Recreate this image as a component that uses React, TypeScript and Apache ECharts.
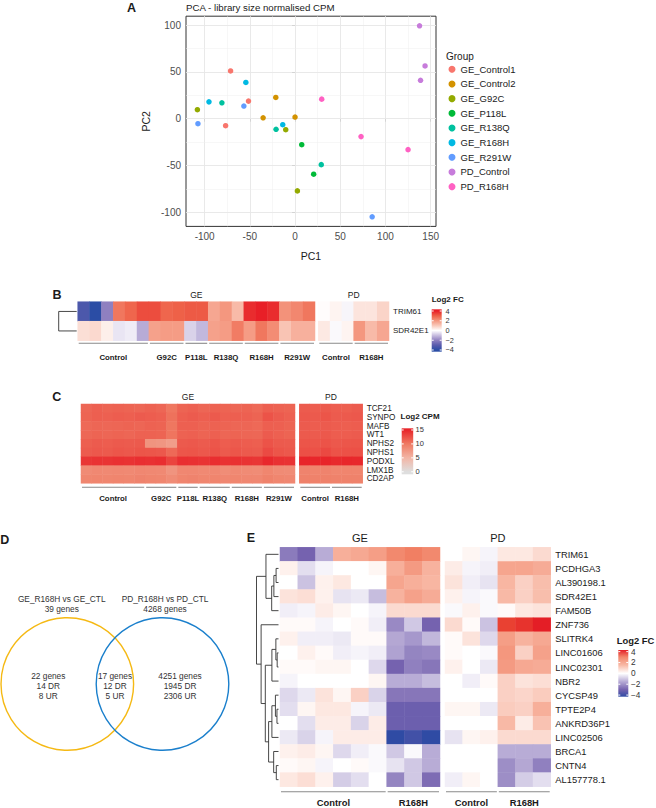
import React, { useEffect, useRef } from 'react';
import * as echarts from 'echarts';

const FONT = '"Liberation Sans", Arial, Helvetica, sans-serif';
const NARROW = '"Liberation Sans Narrow", "Arial Narrow", "Liberation Sans", Arial, sans-serif';
const TXT = '#1a1a1a';

// ---------- Panel A: PCA ----------
const GROUP_NAMES = ['GE_Control1', 'GE_Control2', 'GE_G92C', 'GE_P118L', 'GE_R138Q', 'GE_R168H', 'GE_R291W', 'PD_Control', 'PD_R168H'];
const GROUP_COLORS = ['#F8766D', '#D39200', '#93AA00', '#00BA38', '#00C19F', '#00B9E3', '#619CFF', '#C77CDB', '#FF61C3'];
const PCA_GE_CONTROL1 = [[-71.3, 51], [-51.5, 18.8], [-76.8, -7.4]];
const PCA_GE_CONTROL2 = [[-21.3, 22.7], [-35.3, 1], [0, 1.8]];
const PCA_GE_G92C = [[-108, 9.6], [-10.3, -11.7], [2.6, -77]];
const PCA_GE_P118L = [[7.4, -27.7], [20.6, -59.2]];
const PCA_GE_R138Q = [[-80.9, 17], [-21, -11.3], [29, -49]];
const PCA_GE_R168H = [[-95.2, 18], [-54.4, 38.7], [-13.6, -6.4]];
const PCA_GE_R291W = [[-107.4, -5.3], [-56.6, 13.5], [85.3, -104.7]];
const PCA_PD_CONTROL = [[137.7, 99.2], [143.8, 56.3], [138.8, 41]];
const PCA_PD_R168H = [[29.5, 20.9], [73, -19.1], [125, -33]];
const PCA_POINTS = [PCA_GE_CONTROL1, PCA_GE_CONTROL2, PCA_GE_G92C, PCA_GE_P118L, PCA_GE_R138Q, PCA_GE_R168H, PCA_GE_R291W, PCA_PD_CONTROL, PCA_PD_R168H];
const X_TICKS = [-100, -50, 0, 50, 100, 150];
const X_MINOR = [-75, -25, 25, 75, 125];
const Y_TICKS = [-100, -50, 0, 50, 100];
const Y_MINOR = [-75, -25, 25, 75];

// ---------- Groups ----------
const GE_GROUPS = ['Control', 'G92C', 'P118L', 'R138Q', 'R168H', 'R291W'];
const GE_GROUP_SIZES = [6, 3, 2, 3, 3, 3];
const PD_GROUPS = ['Control', 'R168H'];
const PD_GROUP_SIZES = [3, 3];
const E_GE_GROUPS = ['Control', 'R168H'];
const E_GE_GROUP_SIZES = [6, 3];

// ---------- Panel B: Log2 FC (20 GE + 6 PD samples) ----------
const B_GENES = ['TRIM61', 'SDR42E1'];
const B_TRIM61 = [-3.3, -4.0, -2.0, 2.6, 2.9, 3.3, 3.3, 2.9, 3.0, 3.1, 3.1, 1.7, 2.0, 1.3, 3.8, 4.2, 3.8, 2.1, 2.3, 2.6, 0.05, 0.2, -0.15, 0.5, 0.5, 0.8];
const B_SDR42E1 = [0.6, 0.7, 0.3, -0.4, -0.3, -1.3, 1.8, 1.9, 1.9, -0.7, -1.1, 1.8, 1.9, 2.5, 1.9, 2.6, 2.2, 1.1, 1.5, 1.5, 0.4, -0.1, 0.2, 2.0, 1.3, 1.7];
const B_VALUES = [B_TRIM61, B_SDR42E1];
const B_COLORS = ['#2B4DA5', '#5A5CAD', '#8F80C0', '#C8BEE0', '#FFFFFF', '#F9C9BA', '#F4977F', '#EE6148', '#E81F27'];

// ---------- Panel C: Log2 CPM ----------
const C_GENES = ['TCF21', 'SYNPO', 'MAFB', 'WT1', 'NPHS2', 'NPHS1', 'PODXL', 'LMX1B', 'CD2AP'];
const C_TCF21 = [11.2, 11.5, 11.3, 11.4, 11.3, 11.2, 11.4, 11.2, 10.2, 11.3, 11.5, 11.2, 11.4, 11.3, 11.2, 11.3, 11.0, 11.6, 11.4, 11.3, 11.8, 11.7, 11.9, 11.7, 11.6, 11.8];
const C_SYNPO = [11.3, 11.6, 11.5, 11.7, 11.6, 11.8, 11.7, 11.5, 10.5, 11.6, 11.8, 11.6, 11.9, 11.5, 11.6, 11.5, 11.3, 12.3, 11.8, 11.5, 12.0, 11.9, 12.2, 11.8, 11.9, 12.0];
const C_MAFB = [11.0, 11.2, 11.1, 11.2, 11.3, 11.2, 11.4, 11.3, 10.2, 11.5, 11.5, 11.3, 11.4, 11.3, 11.2, 11.2, 11.0, 11.6, 11.5, 11.3, 11.8, 11.7, 11.8, 11.7, 11.6, 11.7];
const C_WT1 = [11.1, 11.3, 11.2, 11.3, 11.2, 11.4, 11.4, 11.3, 10.3, 11.4, 11.5, 11.3, 11.5, 11.2, 11.3, 11.2, 11.1, 11.8, 11.5, 11.3, 11.9, 11.8, 12.0, 11.7, 11.7, 11.8];
const C_NPHS2 = [11.6, 11.8, 11.7, 11.9, 11.8, 11.9, 7.8, 7.6, 7.0, 11.9, 12.0, 11.8, 12.1, 11.7, 11.9, 11.7, 11.6, 12.3, 11.9, 11.8, 12.2, 12.1, 12.3, 12.0, 12.1, 12.2];
const C_NPHS1 = [11.8, 12.0, 11.9, 12.1, 12.0, 12.2, 12.1, 12.0, 11.0, 12.1, 12.2, 12.0, 12.3, 11.9, 12.1, 11.9, 11.8, 12.8, 12.2, 12.0, 12.5, 12.4, 12.9, 12.3, 12.4, 12.5];
const C_PODXL = [14.0, 14.2, 14.1, 14.3, 14.2, 14.4, 14.3, 14.5, 13.2, 14.4, 14.3, 14.1, 14.5, 14.2, 14.3, 14.1, 14.0, 14.8, 14.3, 14.2, 15.0, 14.9, 15.0, 14.7, 14.9, 14.8];
const C_LMX1B = [8.6, 8.8, 8.7, 8.8, 8.7, 8.9, 8.8, 8.7, 7.8, 8.9, 8.9, 8.7, 8.8, 8.4, 8.7, 8.6, 8.5, 9.0, 8.6, 8.5, 9.2, 9.1, 9.2, 9.0, 9.1, 9.1];
const C_CD2AP = [9.0, 9.1, 9.0, 9.1, 9.0, 9.2, 9.1, 9.0, 8.5, 9.1, 9.2, 9.0, 9.1, 8.9, 9.0, 8.9, 8.9, 9.3, 9.0, 8.9, 9.4, 9.3, 9.4, 9.3, 9.3, 9.3];
const C_VALUES = [C_TCF21, C_SYNPO, C_MAFB, C_WT1, C_NPHS2, C_NPHS1, C_PODXL, C_LMX1B, C_CD2AP];
const C_COLORS = ['#DEDEDE', '#F2B5A5', '#EF7A62', '#E8252A'];

// ---------- Panel D: Venn ----------
const VENN_SETS = ['GE_R168H vs GE_CTL', 'PD_R168H vs PD_CTL'];
const VENN_TOTALS = [39, 4268];
const VENN_GENES = [22, 17, 4251];
const VENN_DR = [14, 12, 1945];
const VENN_UR = [8, 5, 2306];

// ---------- Panel E: Log2 FC (9 GE + 6 PD samples) ----------
const E_GENES = ['TRIM61', 'PCDHGA3', 'AL390198.1', 'SDR42E1', 'FAM50B', 'ZNF736', 'SLITRK4', 'LINC01606', 'LINC02301', 'NBR2', 'CYCSP49', 'TPTE2P4', 'ANKRD36P1', 'LINC02506', 'BRCA1', 'CNTN4', 'AL157778.1'];
const E_TRIM61 = [-2.5, -3.0, -1.5, 1.8, 2.0, 2.3, 2.9, 3.2, 2.9, 0, 0.2, -0.2, 0.5, 0.5, 0.8];
const E_PCDHGA3 = [0.3, -0.6, -0.2, 0, 0, 0.2, 1.8, 2.4, 1.7, 0.4, -0.2, -0.3, 2.1, 2.1, 1.9];
const E_AL390198 = [0, -1.1, 0.3, 0.5, 0, 0, 2.1, 1.8, 1.6, 0.6, -0.3, -0.5, 1.6, 1.0, 1.4];
const E_SDR42E1 = [0.6, 0.7, 0.3, -0.5, -0.4, -1.2, 1.7, 2.2, 1.9, 0.3, -0.2, -0.1, 1.5, 1.0, 1.4];
const E_FAM50B = [-0.3, -0.2, 0.4, 0.2, 0, -0.2, 0.8, 0.8, 0.8, -0.1, 0.3, -0.1, 0.1, 0.5, 0.6];
const E_ZNF736 = [0.1, 0.1, -0.2, 0, 0.1, -0.3, -2.2, -1.0, -3.0, 0.8, 0.1, -1.1, 5.0, 5.4, 6.0];
const E_SLITRK4 = [0.3, -0.3, -0.3, -0.4, 0.1, 0.1, -1.6, -1.9, -1.3, 0.1, 0.6, -0.7, 2.3, 1.7, 2.0];
const E_LINC01606 = [0, 0.3, 0.1, -0.3, -0.2, -0.3, -1.7, -2.3, -2.2, 0.1, 0, -0.1, 2.5, 1.0, 2.2];
const E_LINC02301 = [0.1, 0.1, 0.2, 0.2, 0, -0.7, -3.0, -2.4, -2.6, 0.3, 0, -0.4, 2.4, 2.0, 1.9];
const E_NBR2 = [-0.2, 0, 0, 0, 0, 0.2, -1.5, -1.5, -1.2, 0, -0.3, 0.1, 1.0, 0.6, 0.7];
const E_CYCSP49 = [-0.7, -0.4, 0.6, 0.2, 1.0, -0.8, -2.6, -2.6, -2.6, 0, 0, 0, 1.0, 0.9, 1.1];
const E_TPTE2P4 = [-0.6, 0.2, 0.5, 0.5, -0.2, -0.4, -3.2, -3.2, -3.2, 0.2, 0.2, -0.4, 1.1, 1.0, 1.8];
const E_ANKRD36P1 = [0, -0.6, 0.4, 0.4, -0.8, 0.4, -3.2, -3.2, -3.2, 0, 0, 0, 1.5, 0.4, 1.3];
const E_LINC02506 = [-0.4, -0.8, -0.2, 0.4, 0.4, 0.4, -4.5, -4.1, -4.5, -0.5, 0.2, 0.3, 0.8, 0.8, 0.8];
const E_BRCA1 = [0.3, 0.4, 0.2, -0.7, -0.3, -0.1, -1.0, -0.1, -1.5, 0, 0, 0, -1.5, -1.5, -1.5];
const E_CNTN4 = [0.1, 0.2, -0.2, 0, 0.1, -0.1, -0.5, -1.0, -1.5, 0, 0, 0, -2.1, -1.6, -2.4];
const E_AL157778 = [0.5, 0.7, 0.3, -0.9, -0.6, 0, -2.3, -1.0, -2.8, -0.3, 0.2, 0, -2.1, -0.9, -0.6];
const E_VALUES = [E_TRIM61, E_PCDHGA3, E_AL390198, E_SDR42E1, E_FAM50B, E_ZNF736, E_SLITRK4, E_LINC01606, E_LINC02301, E_NBR2, E_CYCSP49, E_TPTE2P4, E_ANKRD36P1, E_LINC02506, E_BRCA1, E_CNTN4, E_AL157778];
const E_COLORS = ['#2F4BA4', '#7562AF', '#B8ACD6', '#FFFFFF', '#F8B9A6', '#F2866A', '#EC5238', '#E41E26'];
const E_MIN = -4.5;
const E_MAX = 6;

// dendrogram topologies (leaf = row index, h = relative merge height)
type TreeNode = number | { h: number; l: TreeNode; r: TreeNode };
const B_TREE: TreeNode = { h: 1, l: 0, r: 1 };
const E_TREE: TreeNode = {
  h: 1,
  l: { h: 0.57, l: 0, r: { h: 0.31, l: { h: 0.21, l: { h: 0.11, l: 1, r: 2 }, r: 3 }, r: 4 } },
  r: {
    h: 0.79, l: 5,
    r: {
      h: 0.6,
      l: { h: 0.3, l: { h: 0.12, l: 6, r: { h: 0.06, l: 7, r: 8 } }, r: 9 },
      r: {
        h: 0.45,
        l: { h: 0.3, l: { h: 0.14, l: 10, r: { h: 0.07, l: 11, r: 12 } }, r: 13 },
        r: { h: 0.22, l: 14, r: { h: 0.1, l: 15, r: 16 } },
      },
    },
  },
};

// ---------- layout ----------
const GA = { left: 186, top: 16.2, width: 250, height: 210.2 };
const GB1 = { left: 77.7, top: 301.7, width: 237.3, height: 39 };
const GB2 = { left: 318.3, top: 301.7, width: 70.7, height: 39 };
const GC1 = { left: 81, top: 404, width: 214, height: 79.3 };
const GC2 = { left: 299.3, top: 404, width: 63.4, height: 79.3 };
const GE1 = { left: 280, top: 547.3, width: 160, height: 239.4 };
const GE2 = { left: 445, top: 547.3, width: 105.7, height: 239.4 };

const txt = (x: number, y: number, text: string, o: any = {}) => ({
  type: 'text', x, y, silent: true,
  style: { text, fill: TXT, fontSize: 10, fontFamily: FONT, align: 'center', verticalAlign: 'middle', ...o },
});
const seg = (x1: number, y1: number, x2: number, y2: number, stroke = '#333', lineWidth = 0.8) => ({
  type: 'line', silent: true, shape: { x1, y1, x2, y2 }, style: { stroke, lineWidth },
});

function heatData(rows: number[][], from: number, to: number) {
  const out: number[][] = [];
  rows.forEach((row, r) => {
    for (let c = from; c < to; c++) out.push([c - from, r, row[c]]);
  });
  return out;
}

function groupMarks(g: any, n: number, names: string[], sizes: number[], lineDy: number, labelDy: number, fs: number) {
  const cw = g.width / n;
  const y0 = g.top + g.height;
  const els: any[] = [];
  let s = 0;
  names.forEach((name, i) => {
    const x1 = g.left + s * cw + 1;
    const x2 = g.left + (s + sizes[i]) * cw - 1;
    els.push(seg(x1, y0 + lineDy, x2, y0 + lineDy, '#8a8a8a', 1.1));
    els.push(txt((x1 + x2) / 2, y0 + labelDy, name, { fontWeight: 'bold', fontSize: fs }));
    s += sizes[i];
  });
  return els;
}

function dendro(tree: TreeNode, leafX: number, width: number, g: any, nRows: number) {
  const els: any[] = [];
  const rh = g.height / nRows;
  const walk = (n: TreeNode): { x: number; y: number } => {
    if (typeof n === 'number') return { x: leafX, y: g.top + rh * (n + 0.5) };
    const a = walk(n.l);
    const b = walk(n.r);
    const x = leafX - n.h * width;
    els.push(seg(a.x, a.y, x, a.y, '#333', 0.9));
    els.push(seg(b.x, b.y, x, b.y, '#333', 0.9));
    els.push(seg(x, a.y, x, b.y, '#333', 0.9));
    return { x, y: (a.y + b.y) / 2 };
  };
  walk(tree);
  return els;
}

function colorBar(x: number, yTop: number, w: number, h: number, colors: string[], vmin: number, vmax: number, barMax: number, barMin: number, labels: number[], fs: number, labelX: number) {
  const stops: any[] = [];
  colors.forEach((c, i) => {
    const v = vmin + (i * (vmax - vmin)) / (colors.length - 1);
    const off = (barMax - v) / (barMax - barMin);
    stops.push({ offset: Math.max(0, Math.min(1, off)), color: c });
  });
  stops.sort((a, b) => a.offset - b.offset);
  const els: any[] = [{
    type: 'rect', silent: true, shape: { x, y: yTop, width: w, height: h },
    style: { fill: new echarts.graphic.LinearGradient(0, 0, 0, 1, stops) },
  }];
  labels.forEach((v) => {
    const y = yTop + ((barMax - v) / (barMax - barMin)) * h;
    els.push(seg(x, y, x + 2, y, '#fff', 1));
    els.push(seg(x + w - 2, y, x + w, y, '#fff', 1));
    els.push(txt(labelX, y, v < 0 ? '\u2212' + Math.abs(v) : String(v), { align: 'left', fontSize: fs, fill: '#333' }));
  });
  return els;
}

function buildOption() {
  const series: any[] = [];
  PCA_POINTS.forEach((pts, i) => {
    const s: any = {
      type: 'scatter', name: GROUP_NAMES[i], xAxisIndex: 0, yAxisIndex: 0,
      data: pts, symbolSize: 5.5, itemStyle: { color: GROUP_COLORS[i], opacity: 1 },
      emphasis: { disabled: true }, z: 3,
    };
    if (i === 0) {
      const major = { color: '#E6E6E6', width: 0.9, type: 'solid' };
      const minor = { color: '#EEEEEE', width: 0.5, type: 'solid' };
      s.markLine = {
        silent: true, symbol: ['none', 'none'], z: 1, animation: false, label: { show: false },
        data: [
          ...X_TICKS.map((v) => ({ xAxis: v, lineStyle: major })),
          ...X_MINOR.map((v) => ({ xAxis: v, lineStyle: minor })),
          ...Y_TICKS.map((v) => ({ yAxis: v, lineStyle: major })),
          ...Y_MINOR.map((v) => ({ yAxis: v, lineStyle: minor })),
        ],
      };
    }
    series.push(s);
  });
  const heat = (xi: number, data: number[][]) => ({
    type: 'heatmap', xAxisIndex: xi, yAxisIndex: xi, data,
    itemStyle: { borderWidth: 0 }, emphasis: { disabled: true },
  });
  series.push(heat(1, heatData(B_VALUES, 0, 20)));
  series.push(heat(2, heatData(B_VALUES, 20, 26)));
  series.push(heat(3, heatData(C_VALUES, 0, 20)));
  series.push(heat(4, heatData(C_VALUES, 20, 26)));
  series.push(heat(5, heatData(E_VALUES, 0, 9)));
  series.push(heat(6, heatData(E_VALUES, 9, 15)));

  const idx = (n: number) => Array.from({ length: n }, (_, i) => String(i));
  const grids = [GA, GB1, GB2, GC1, GC2, GE1, GE2].map((g, i) => ({
    ...g, containLabel: false, outerBoundsMode: 'none',
    show: i === 0, borderColor: '#333', borderWidth: 1, backgroundColor: '#fff',
  }));
  const hx = (gi: number, n: number) => ({ type: 'category', gridIndex: gi, data: idx(n), show: false });
  const hy = (gi: number, genes: string[], showLabel: boolean, fs: number, family: string, margin: number) => ({
    type: 'category', gridIndex: gi, data: genes, inverse: true, position: 'right',
    axisLine: { show: false }, axisTick: { show: false }, splitLine: { show: false },
    axisLabel: { show: showLabel, interval: 0, hideOverlap: false, fontSize: fs, fontFamily: family, color: TXT, margin },
  });

  const xAxis: any[] = [
    {
      type: 'value', gridIndex: 0, min: -120.6, max: 155.9,
      name: 'PC1', nameLocation: 'middle', nameGap: 24,
      nameTextStyle: { fontSize: 10.5, color: TXT, fontFamily: FONT },
      axisLine: { show: false },
      axisTick: { show: true, length: 3, lineStyle: { color: '#333' }, customValues: X_TICKS },
      axisLabel: { customValues: X_TICKS, fontSize: 10, color: '#4d4d4d', fontFamily: FONT, margin: 5 },
      splitLine: { show: false },
    },
    hx(1, 20), hx(2, 6), hx(3, 20), hx(4, 6), hx(5, 9), hx(6, 6),
  ];
  const yAxis: any[] = [
    {
      type: 'value', gridIndex: 0, min: -114.9, max: 109.4,
      name: 'PC2', nameLocation: 'middle', nameGap: 35,
      nameTextStyle: { fontSize: 10.5, color: TXT, fontFamily: FONT },
      axisLine: { show: false },
      axisTick: { show: true, length: 3, lineStyle: { color: '#333' }, customValues: Y_TICKS },
      axisLabel: { customValues: Y_TICKS, fontSize: 10, color: '#4d4d4d', fontFamily: FONT, margin: 5 },
      splitLine: { show: false },
    },
    hy(1, B_GENES, false, 8, FONT, 4), hy(2, B_GENES, true, 8, FONT, 4),
    hy(3, C_GENES, false, 8.2, NARROW, 4), hy(4, C_GENES, true, 8.2, NARROW, 4),
    hy(5, E_GENES, false, 9.4, FONT, 4.5), hy(6, E_GENES, true, 9.4, FONT, 4.5),
  ];

  const graphic: any[] = [];
  // panel letters
  graphic.push(txt(131.5, 7.5, 'A', { fontWeight: 'bold', fontSize: 12.5 }));
  graphic.push(txt(57, 295, 'B', { fontWeight: 'bold', fontSize: 12.5 }));
  graphic.push(txt(56.7, 396.5, 'C', { fontWeight: 'bold', fontSize: 12.5 }));
  graphic.push(txt(4.8, 539.5, 'D', { fontWeight: 'bold', fontSize: 12.5 }));
  graphic.push(txt(251, 537.5, 'E', { fontWeight: 'bold', fontSize: 12.5 }));
  // legend title A
  graphic.push(txt(446, 56, 'Group', { align: 'left', fontSize: 10 }));

  // B
  graphic.push(txt(GB1.left + GB1.width / 2, 295, 'GE', { fontSize: 8.5 }));
  graphic.push(txt(GB2.left + GB2.width / 2, 295, 'PD', { fontSize: 8.5 }));
  graphic.push(...groupMarks(GB1, 20, GE_GROUPS, GE_GROUP_SIZES, 2.6, 16.6, 7.8));
  graphic.push(...groupMarks(GB2, 6, PD_GROUPS, PD_GROUP_SIZES, 2.6, 16.6, 7.8));
  graphic.push(...dendro(B_TREE, GB1.left - 1, 18, GB1, 2));
  graphic.push(txt(431.7, 299.5, 'Log2 FC', { align: 'left', fontWeight: 'bold', fontSize: 8 }));
  graphic.push(...colorBar(431.7, 309.3, 10, 42.4, B_COLORS, -4, 4, 4.35, -4.35, [4, 2, 0, -2, -4], 7.3, 445.5));

  // C
  graphic.push(txt(GC1.left + GC1.width / 2, 397.3, 'GE', { fontSize: 8.5 }));
  graphic.push(txt(GC2.left + GC2.width / 2, 397.3, 'PD', { fontSize: 8.5 }));
  graphic.push(...groupMarks(GC1, 20, GE_GROUPS, GE_GROUP_SIZES, 4, 15, 7.8));
  graphic.push(...groupMarks(GC2, 6, PD_GROUPS, PD_GROUP_SIZES, 4, 15, 7.8));
  graphic.push(txt(400.5, 416.7, 'Log2 CPM', { align: 'left', fontWeight: 'bold', fontSize: 8 }));
  graphic.push(...colorBar(401.7, 428.3, 11.5, 46, C_COLORS, 0, 15, 15.6, -0.9, [15, 10, 5, 0], 7.5, 415.5));

  // D Venn
  const vennCx = [67.3, 162.5];
  const vennCol = ['#F5B914', '#1A7FCC'];
  vennCx.forEach((cx, i) => {
    graphic.push({ type: 'circle', silent: true, shape: { cx, cy: 684, r: 66.3 }, style: { fill: 'none', stroke: vennCol[i], lineWidth: 1.4 } });
  });
  const setX = [61.7, 165];
  const VF = 8.3;
  VENN_SETS.forEach((s, i) => {
    graphic.push(txt(setX[i], 599, s, { fontSize: VF, fill: '#333' }));
    graphic.push(txt(setX[i], 609, VENN_TOTALS[i] + ' genes', { fontSize: VF, fill: '#333' }));
  });
  const regX = [48.3, 115, 180];
  regX.forEach((x, i) => {
    graphic.push(txt(x, 675.7, VENN_GENES[i] + ' genes', { fontSize: VF, fill: '#333' }));
    graphic.push(txt(x, 685.7, VENN_DR[i] + ' DR', { fontSize: VF, fill: '#333' }));
    graphic.push(txt(x, 695.7, VENN_UR[i] + ' UR', { fontSize: VF, fill: '#333' }));
  });

  // E
  graphic.push(txt(GE1.left + GE1.width / 2, 537.5, 'GE', { fontSize: 11 }));
  graphic.push(txt(GE2.left + GE2.width / 2, 537.5, 'PD', { fontSize: 11 }));
  graphic.push(...groupMarks(GE1, 9, E_GE_GROUPS, E_GE_GROUP_SIZES, 5, 15.3, 9.4));
  graphic.push(...groupMarks(GE2, 6, PD_GROUPS, PD_GROUP_SIZES, 5, 15.3, 9.4));
  graphic.push(...dendro(E_TREE, GE1.left - 1.5, 22, GE1, 17));
  graphic.push(txt(616.7, 640, 'Log2 FC', { align: 'left', fontWeight: 'bold', fontSize: 9.4 }));
  graphic.push(...colorBar(618.3, 650, 10, 46.7, E_COLORS, E_MIN, E_MAX, 4.3, -4.3, [4, 2, 0, -2, -4], 8.3, 631));

  return {
    animation: false,
    backgroundColor: '#fff',
    textStyle: { fontFamily: FONT },
    title: {
      text: 'PCA - library size normalised CPM', left: 186, top: 2, padding: 0,
      textStyle: { fontSize: 9.7, fontWeight: 'normal', color: TXT, fontFamily: FONT },
    },
    legend: {
      data: GROUP_NAMES, orient: 'vertical', left: 448.5, top: 63.3, padding: 0,
      icon: 'circle', itemWidth: 7, itemHeight: 7, itemGap: 2.67, selectedMode: false,
      textStyle: { fontSize: 9.5, lineHeight: 12, color: TXT, fontFamily: FONT },
    },
    grid: grids,
    xAxis,
    yAxis,
    visualMap: [
      { type: 'continuous', show: false, min: -4, max: 4, seriesIndex: [9, 10], dimension: 2, inRange: { color: B_COLORS } },
      { type: 'continuous', show: false, min: 0, max: 15, seriesIndex: [11, 12], dimension: 2, inRange: { color: C_COLORS } },
      { type: 'continuous', show: false, min: E_MIN, max: E_MAX, seriesIndex: [13, 14], dimension: 2, inRange: { color: E_COLORS } },
    ],
    series,
    graphic,
  };
}

export default function App() {
  const ref = useRef<HTMLDivElement>(null);
  useEffect(() => {
    document.body.style.margin = '0';
    const chart = echarts.init(ref.current as HTMLDivElement, null, { renderer: 'svg' });
    chart.setOption(buildOption() as any);
    return () => chart.dispose();
  }, []);
  return <div ref={ref} style={{ width: 656, height: 808, background: '#fff' }} />;
}
